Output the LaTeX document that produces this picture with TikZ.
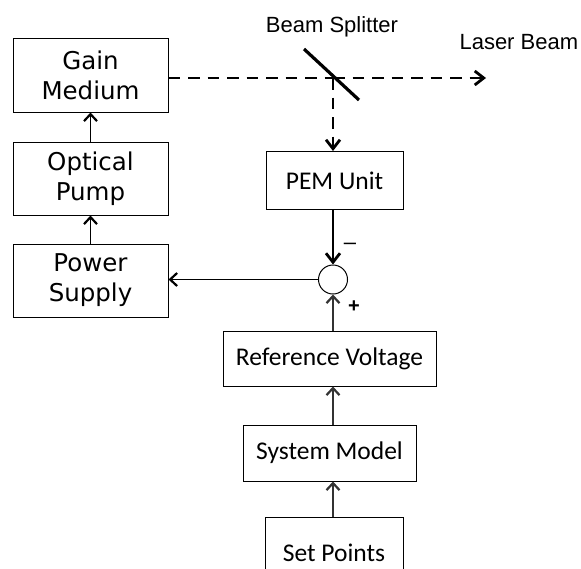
\documentclass[tikz,border=0pt]{standalone}
\usepackage{fontspec}
\setmainfont{Liberation Sans}
\newfontfamily\boxfont{DejaVu Sans}
\newfontfamily\calfont{Carlito}
\usetikzlibrary{arrows.meta}
\begin{document}
\begin{tikzpicture}[x=1pt,y=-1pt,
  blockL/.style={draw,line width=1pt,minimum width=155pt,minimum height=74pt,
    font=\boxfont\fontsize{24.5}{30}\selectfont,align=center,inner sep=0pt},
  blockR/.style={draw,line width=1pt,inner sep=0pt,
    font=\calfont\fontsize{25.5}{30}\selectfont},
  tip/.style={-{Straight Barb[length=7pt,width=13pt,line width=2.2pt]}},
  arr/.style={tip,line width=1.3pt},
  bigtip/.style={-{Straight Barb[length=9pt,width=14pt,line width=2.8pt]}},
  beam/.style={dashed,dash pattern=on 11.5pt off 8pt,line width=2.6pt},
  lbl/.style={font=\fontsize{22}{26}\selectfont}]
\useasboundingbox (0,0) rectangle (581,568);
% laser head chain
\node[blockL] (gain) at (90.5,75) {Gain\\Medium};
\node[blockL,minimum height=73pt] (pump) at (90.5,178.5) {Optical\\Pump};
\node[blockL,minimum height=73pt] (power) at (90.5,280.5) {Power\\Supply};
\draw[arr] (power.north) -- (pump.south);
\draw[arr] (pump.north) -- (gain.south);
% beam splitter and sensor
\coordinate (bs) at (333,78);
\coordinate (bsA) at (304,49);
\coordinate (bsB) at (359,100);
\coordinate (out) at (486,78);
\node[lbl] (bstext) at (332,27) {Beam Splitter};
\node[lbl,anchor=west] (lbtext) at (456,42) {Laser Beam};
\node[blockR,minimum width=137pt,minimum height=58pt,anchor=north] (pem) at (334.5,151) {PEM Unit};
\draw[beam] (gain.east |- bs) -- (bs);
\draw[beam,bigtip] (bs) -- (out);
\draw[beam,bigtip] (bs) -- (pem.north -| bs);
\draw[line width=3.2pt] (bsA) -- (bsB);
% summing junction
\node[draw,circle,line width=1pt,minimum size=29pt,inner sep=0pt] (sum) at (333,279.5) {};
\node[font=\fontsize{22}{24}\selectfont] (minus) at (350,246) {--};
\node[font=\bfseries\fontsize{20}{22}\selectfont] (plus) at (354,307) {+};
\draw[bigtip,line width=2.6pt] (pem.south -| sum) -- (sum.north);
\draw[arr] (sum.west) -- (power.east |- sum);
% reference chain
\node[blockR,minimum width=213pt,minimum height=55pt] (ref) at (329.5,358.5) {Reference Voltage};
\node[blockR,minimum width=173pt,minimum height=56pt] (model) at (329.5,453) {System Model};
\node[blockR,minimum width=138pt,minimum height=70pt,anchor=north] (set) at (334,517) {Set Points};
\draw[arr,black!80] (ref.north -| sum) -- (sum.south);
\draw[arr,black!80] (model.north -| sum) -- (ref.south -| sum);
\draw[arr,black!80] (set.north -| sum) -- (model.south -| sum);
\end{tikzpicture}
\end{document}
